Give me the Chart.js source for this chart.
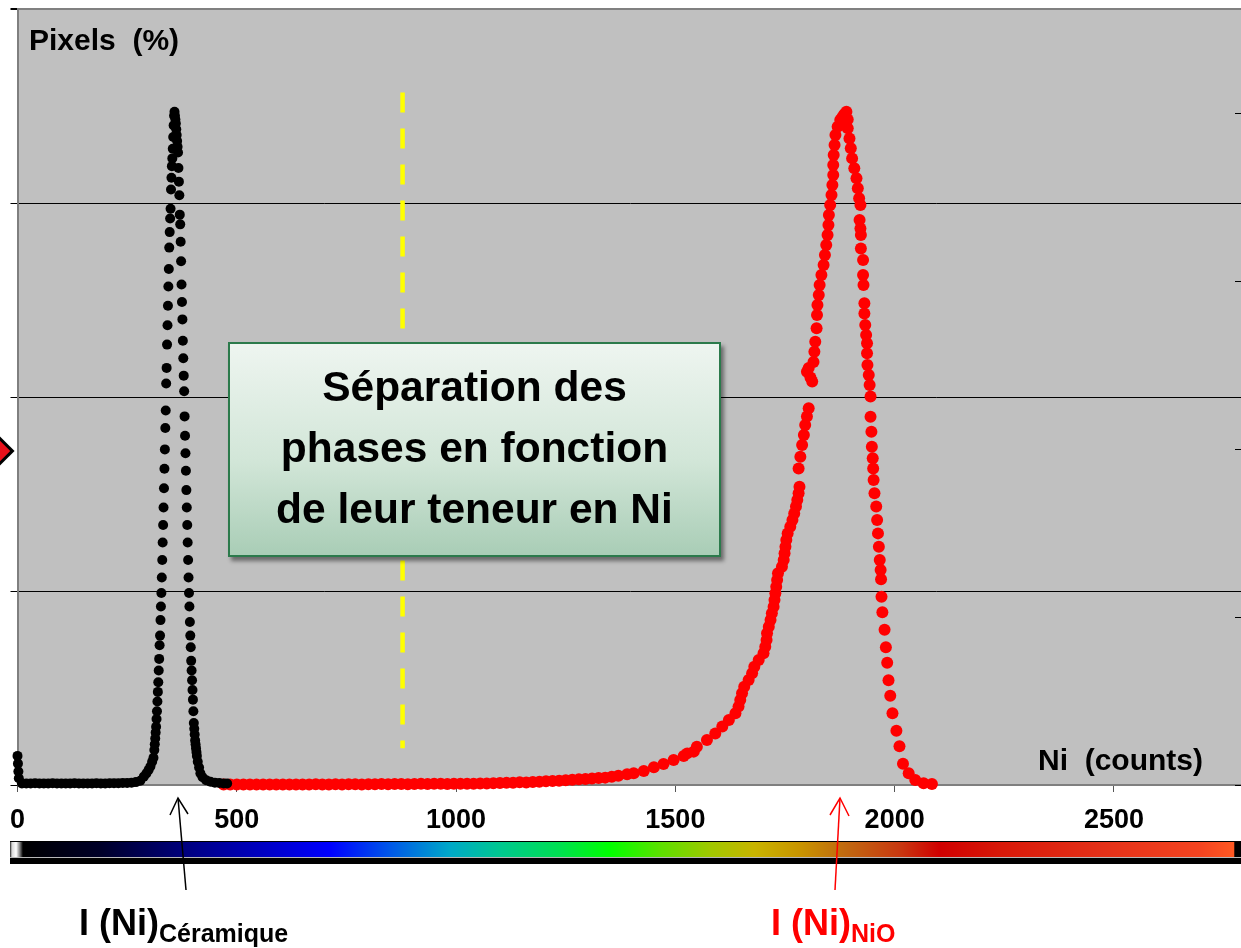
<!DOCTYPE html>
<html lang="fr">
<head>
<meta charset="utf-8">
<title>Pixels vs Ni counts</title>
<script src="https://cdn.jsdelivr.net/npm/chart.js@4.4.1/dist/chart.umd.min.js"></script>
<style>
    html, body { margin: 0; padding: 0; background: #fff; overflow: hidden; }
    #wrap { position: relative; width: 1241px; height: 948px; overflow: hidden; font-family: "Liberation Sans", Arial, sans-serif; }
    #chart { position: absolute; left: -2px; top: 0; }
    .axis-title { position: absolute; font-weight: bold; font-size: 30px; line-height: 30px; white-space: pre; color: #000; }
    #phase-box {
        position: absolute; left: 228px; top: 342px; width: 489px; height: 199px;
        border: 2px solid #2b7a4b;
        background: linear-gradient(to bottom, #eef5f0 0%, #d2e6d8 55%, #a9cdb6 100%);
        box-shadow: 3px 4px 4px rgba(0, 0, 0, 0.45);
        text-align: center; font-weight: bold; font-size: 42.5px; line-height: 61px; color: #000;
        padding-top: 12px; box-sizing: content-box;
    }
    #colorbar { position: absolute; left: 10px; top: 841px; width: 1231px; height: 23px; background: #000; }
    #colorbar .ramp {
        position: absolute; left: 0; top: 1px; width: 100%; height: 15px;
        border-bottom: 1px solid #b8b8b8;
        background: linear-gradient(to right,
            #202020 0%, #d8d8d8 0.16%, #ffffff 0.5%, #808080 0.8%, #000000 1.05%,
            #000028 7.3%, #00008c 15.4%, #0000c0 20.3%, #0000ff 26%, #0058e8 30.9%,
            #00a8c8 35.7%, #00c890 39.8%, #00e050 44.7%, #00ff00 48.7%, #5ce000 52.8%,
            #a0c800 56.9%, #c8b400 60.5%, #c89400 64.2%, #c06a10 67.8%, #c83810 72.3%,
            #d00000 75.5%, #d81808 80.4%, #e43018 88.5%, #f44420 96.7%, #ff5822 99.4%,
            #000000 99.5%, #000000 100%);
    }
    .phase-label { position: absolute; font-weight: bold; font-size: 36px; line-height: 36px; white-space: nowrap; }
    .phase-label sub { font-size: 25px; vertical-align: baseline; position: relative; top: 7px; }
    #diamond {
        position: absolute; left: -12px; top: 440px; width: 16px; height: 16px;
        background: #e8101a; border: 3px solid #000; transform: rotate(45deg);
    }
    #arrows { position: absolute; left: 0; top: 0; pointer-events: none; }
</style>
</head>
<body>
<div id="wrap">
    <canvas id="chart" width="1250" height="948"></canvas>
    <div class="axis-title" style="left:29px; top:25px;">Pixels  (%)</div>
    <div class="axis-title" style="right:38px; top:745px;">Ni  (counts)</div>
    <div id="phase-box">Séparation des<br>phases en fonction<br>de leur teneur en Ni</div>
    <div id="colorbar"><div class="ramp"></div></div>
    <div id="diamond"></div>
    <div class="phase-label" style="left:79px; top:905px; color:#000;">I (Ni)<sub>Céramique</sub></div>
    <div class="phase-label" style="left:771px; top:905px; color:#ff0000;">I (Ni)<sub>NiO</sub></div>
    <svg id="arrows" width="1241" height="948">
        <g fill="none" stroke="#000" stroke-width="1.5">
            <line x1="186" y1="890" x2="178" y2="798"/>
            <polyline points="170,815 178,798 188,814"/>
        </g>
        <g fill="none" stroke="#ff0000" stroke-width="1.5">
            <line x1="835" y1="890" x2="840" y2="798"/>
            <polyline points="830,815 840,798 849,816"/>
        </g>
    </svg>
</div>
<script>
// Ni counts (x) and share of pixels in % (y)
const ceramicCounts = [
    0, 1, 2, 3, 10, 20, 30, 40, 50, 60, 70, 80, 90, 100, 110, 120, 130, 140, 150, 160,
    170, 180, 190, 200, 210, 220, 230, 240, 250, 260, 270, 280, 288, 294, 299, 303, 307, 310, 312, 313,
    314, 315, 316, 317, 318, 319, 320, 321, 322, 323, 324, 325, 326, 327, 328, 329, 330, 331, 332, 333,
    334, 335, 336, 337, 338, 339, 340, 341, 342, 343, 344, 345, 346, 347, 348, 349, 350, 351, 352, 353,
    354, 355, 356, 357, 358, 359, 360, 361, 362, 363, 364, 365, 366, 367, 368, 369, 370, 371, 372, 373,
    374, 375, 376, 377, 378, 379, 380, 381, 382, 383, 384, 385, 386, 387, 388, 389, 390, 391, 392, 393,
    394, 395, 396, 397, 398, 399, 400, 401, 402, 403, 404, 405, 406, 407, 408, 409, 411, 414, 417, 422,
    430, 440, 450, 460, 470, 478
];
const ceramicPixels = [
    0.15, 0.11, 0.07, 0.035, 0.008, 0.008, 0.008, 0.009, 0.008, 0.008, 0.008, 0.009, 0.008, 0.008, 0.008, 0.008, 0.009, 0.008, 0.008, 0.008,
    0.008, 0.009, 0.008, 0.008, 0.009, 0.009, 0.009, 0.010, 0.010, 0.012, 0.015, 0.022, 0.043, 0.060, 0.078, 0.095, 0.12, 0.14, 0.18, 0.21,
    0.24, 0.27, 0.30, 0.34, 0.38, 0.43, 0.48, 0.53, 0.59, 0.65, 0.72, 0.77, 0.85, 0.92, 0.99, 1.07, 1.16, 1.25, 1.34, 1.43,
    1.53, 1.63, 1.73, 1.84, 1.93, 2.07, 2.15, 2.27, 2.37, 2.47, 2.57, 2.66, 2.77, 2.85, 2.92, 2.97, 3.07, 3.13, 3.19, 3.23,
    3.28, 3.34, 3.40, 3.45, 3.47, 3.45, 3.43, 3.41, 3.38, 3.35, 3.32, 3.29, 3.26, 3.18, 3.11, 3.04, 2.94, 2.89, 2.80, 2.70,
    2.58, 2.49, 2.40, 2.29, 2.20, 2.11, 2.03, 1.90, 1.80, 1.71, 1.62, 1.52, 1.43, 1.34, 1.25, 1.16, 1.07, 0.99, 0.92, 0.84,
    0.77, 0.71, 0.64, 0.59, 0.54, 0.49, 0.44, 0.38, 0.32, 0.29, 0.26, 0.23, 0.21, 0.19, 0.17, 0.15, 0.12, 0.09, 0.06, 0.04,
    0.025, 0.017, 0.012, 0.010, 0.008, 0.008
];

const nioCounts = [
    470, 485, 500, 515, 530, 545, 560, 575, 590, 605, 620, 635, 650, 665, 680, 695, 710, 725, 740, 755,
    770, 785, 800, 815, 830, 845, 860, 875, 890, 905, 920, 935, 950, 965, 980, 995, 1010, 1025, 1040, 1055,
    1070, 1085, 1100, 1115, 1130, 1145, 1160, 1175, 1190, 1205, 1220, 1235, 1250, 1265, 1280, 1295, 1310, 1325, 1340, 1355,
    1370, 1390, 1405, 1428, 1451, 1473, 1496, 1519, 1527, 1542, 1549, 1572, 1591, 1607, 1622, 1637, 1644, 1648, 1652, 1657,
    1667, 1675, 1680, 1690, 1701, 1705, 1708, 1709, 1713, 1717, 1720, 1724, 1726, 1728, 1730, 1732, 1734, 1743, 1747, 1749,
    1751, 1753, 1756, 1762, 1767, 1771, 1775, 1778, 1781, 1783, 1781, 1785, 1789, 1793, 1796, 1800, 1804, 1800, 1804, 1808,
    1812, 1815, 1817, 1819, 1822, 1823, 1824, 1827, 1829, 1833, 1838, 1841, 1844, 1847, 1849, 1850, 1853, 1856, 1858, 1860,
    1860, 1861, 1863, 1865, 1870, 1876, 1880, 1884, 1887, 1890, 1893, 1893, 1897, 1900, 1903, 1908, 1913, 1916, 1919, 1922,
    1920, 1922, 1923, 1923, 1928, 1928, 1929, 1931, 1931, 1933, 1935, 1937, 1937, 1938, 1941, 1943, 1945, 1945, 1947, 1948,
    1950, 1951, 1952, 1954, 1958, 1960, 1962, 1964, 1966, 1968, 1969, 1970, 1972, 1977, 1980, 1983, 1986, 1990, 1995, 2004,
    2011, 2019, 2032, 2047, 2066, 2085
];
const nioPixels = [
    0.003, 0.002, 0.003, 0.002, 0.003, 0.002, 0.003, 0.003, 0.002, 0.003, 0.003, 0.002, 0.003, 0.003, 0.004, 0.003, 0.003, 0.004, 0.003, 0.004,
    0.004, 0.003, 0.004, 0.004, 0.005, 0.004, 0.005, 0.005, 0.004, 0.005, 0.006, 0.005, 0.006, 0.006, 0.005, 0.007, 0.006, 0.007, 0.007, 0.008,
    0.008, 0.009, 0.010, 0.011, 0.012, 0.014, 0.013, 0.016, 0.017, 0.019, 0.021, 0.022, 0.025, 0.027, 0.029, 0.031, 0.034, 0.036, 0.038, 0.043,
    0.048, 0.055, 0.060, 0.072, 0.091, 0.108, 0.129, 0.149, 0.163, 0.172, 0.197, 0.232, 0.266, 0.301, 0.335, 0.370, 0.404, 0.438, 0.473, 0.507,
    0.541, 0.576, 0.610, 0.644, 0.679, 0.713, 0.747, 0.782, 0.816, 0.851, 0.885, 0.919, 0.954, 0.988, 1.022, 1.057, 1.091, 1.125, 1.160, 1.194,
    1.228, 1.263, 1.297, 1.331, 1.366, 1.400, 1.435, 1.469, 1.504, 1.538, 1.632, 1.692, 1.753, 1.804, 1.856, 1.899, 1.942, 2.13, 2.15, 2.10,
    2.08, 2.18, 2.233, 2.285, 2.354, 2.423, 2.474, 2.526, 2.577, 2.629, 2.680, 2.732, 2.784, 2.835, 2.887, 2.938, 2.990, 3.041, 3.093, 3.144,
    3.196, 3.247, 3.299, 3.351, 3.393, 3.428, 3.44, 3.454, 3.46, 3.471, 3.43, 3.385, 3.333, 3.282, 3.230, 3.179, 3.127, 3.076, 3.024, 2.990,
    2.912, 2.869, 2.835, 2.766, 2.706, 2.629, 2.577, 2.483, 2.431, 2.371, 2.320, 2.277, 2.225, 2.165, 2.113, 2.062, 2.002, 1.898, 1.821, 1.744,
    1.684, 1.632, 1.572, 1.504, 1.435, 1.366, 1.297, 1.228, 1.160, 1.108, 1.06, 0.97, 0.89, 0.80, 0.71, 0.63, 0.54, 0.46, 0.37, 0.28,
    0.20, 0.11, 0.06, 0.026, 0.009, 0.005
];

// yellow dashed separation line
const cutoffCounts = [878, 878];
const cutoffPixels = [3.57, 0.19];

const xTickValues = [0, 500, 1000, 1500, 2000, 2500];
const xMax = 2792;
const yGridValues = [0, 1, 2, 3, 4];
const yRightTickValues = [0, 1, 2, 3, 4];
const yRightMax = 4.62;

document.addEventListener('DOMContentLoaded', () => {
    const toPoints = (xs, ys) => xs.map((x, i) => ({ x, y: ys[i] }));

    const plotBackground = {
        id: 'plotBackground',
        beforeDraw(chart) {
            const { ctx, chartArea: a } = chart;
            ctx.save();
            ctx.fillStyle = '#c0c0c0';
            ctx.fillRect(a.left, a.top, a.right - a.left, a.bottom - a.top);
            ctx.restore();
        }
    };

    // short ticks of the secondary axis, drawn inside the right edge of the visible plot
    const rightTicks = {
        id: 'rightTicks',
        beforeDatasetsDraw(chart) {
            const { ctx } = chart;
            const s = chart.scales.y2;
            const edge = 1243;
            ctx.save();
            ctx.strokeStyle = '#000';
            ctx.lineWidth = 1;
            s.ticks.forEach(t => {
                const y = Math.round(s.getPixelForValue(t.value)) + 0.5;
                ctx.beginPath();
                ctx.moveTo(edge - 6, y);
                ctx.lineTo(edge, y);
                ctx.stroke();
            });
            ctx.restore();
        }
    };

    const tickFont = { family: '"Liberation Sans", Arial, sans-serif', size: 27, weight: 'bold' };

    new Chart(document.getElementById('chart'), {
        type: 'scatter',
        data: {
            datasets: [
                {
                    label: 'I (Ni) Céramique',
                    data: toPoints(ceramicCounts, ceramicPixels),
                    backgroundColor: '#000',
                    pointRadius: 5,
                    pointBorderWidth: 0,
                    clip: false
                },
                {
                    label: 'I (Ni) NiO',
                    data: toPoints(nioCounts, nioPixels),
                    backgroundColor: '#ff0000',
                    pointRadius: 6,
                    pointBorderWidth: 0,
                    clip: false
                },
                {
                    label: 'seuil',
                    data: toPoints(cutoffCounts, cutoffPixels),
                    showLine: true,
                    borderColor: '#ffff00',
                    borderWidth: 4.5,
                    borderDash: [20, 16],
                    pointRadius: 0,
                    clip: false
                }
            ]
        },
        options: {
            responsive: false,
            animation: false,
            layout: { padding: { left: 10.3, top: 9, right: 0, bottom: 99.6 } },
            plugins: {
                legend: { display: false },
                tooltip: { enabled: false }
            },
            scales: {
                x: {
                    type: 'linear',
                    min: 0,
                    max: xMax,
                    afterBuildTicks: axis => { axis.ticks = xTickValues.map(v => ({ value: v })); },
                    ticks: { font: tickFont, color: '#000', padding: 12, maxRotation: 0, callback: v => String(v) },
                    grid: { drawOnChartArea: false, tickLength: 7, tickColor: '#555', tickWidth: 1 },
                    border: { color: '#7f7f7f', width: 2 }
                },
                y: {
                    type: 'linear',
                    min: 0,
                    max: 4,
                    afterBuildTicks: axis => { axis.ticks = yGridValues.map(v => ({ value: v })); },
                    ticks: { display: false },
                    grid: {
                        tickLength: 7,
                        color: ctx => ctx.tick && ctx.tick.value === 4 ? '#808080' : (ctx.tick && ctx.tick.value === 0 ? 'rgba(0,0,0,0)' : '#000'),
                        lineWidth: ctx => ctx.tick && ctx.tick.value === 4 ? 2 : 1,
                        tickColor: '#000'
                    },
                    border: { color: '#7f7f7f', width: 2 }
                },
                y2: {
                    type: 'linear',
                    display: false,
                    position: 'right',
                    min: 0,
                    max: yRightMax,
                    afterBuildTicks: axis => { axis.ticks = yRightTickValues.map(v => ({ value: v })); }
                }
            }
        },
        plugins: [plotBackground, rightTicks]
    });
});
</script>
</body>
</html>
